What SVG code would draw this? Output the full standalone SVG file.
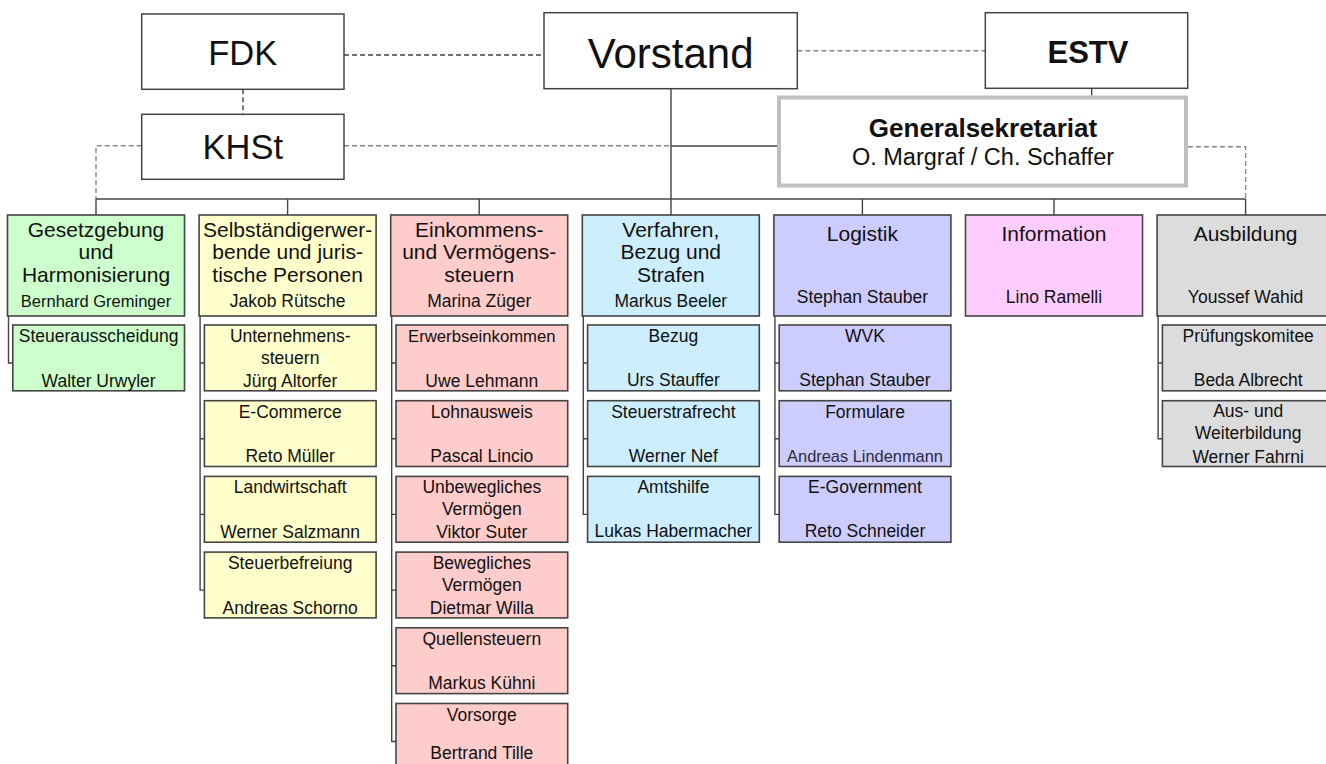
<svg xmlns="http://www.w3.org/2000/svg" width="1326" height="764" viewBox="0 0 1326 764">
<style>
text{font-family:"Liberation Sans",Arial,sans-serif;fill:#111;text-anchor:middle}
.top{fill:#fff;stroke:#444;stroke-width:1.5}
.box{stroke:#444;stroke-width:1.6}
.t{font-size:21px}
.n{font-size:17.5px}
.s{font-size:17.5px}
.ln{fill:none;stroke:#444;stroke-width:1.4}
.dd{fill:none;stroke:#444;stroke-width:1.4;stroke-dasharray:5 3}
.dl{fill:none;stroke:#888;stroke-width:1.4;stroke-dasharray:5 3}
.g{fill:#ccffcc}.y{fill:#ffffcc}.r{fill:#ffcccc}.b{fill:#cceeff}.v{fill:#ccccff}.m{fill:#ffccff}.k{fill:#dcdcdc}
</style>
<g id="connectors">
<path class="dd" d="M344 55H544"/>
<path class="dd" d="M243 89.3V114.3"/>
<path class="dl" d="M141.7 145.7H96V199"/>
<path class="dl" d="M344 145.7H671"/>
<path class="ln" d="M671 146H777"/>
<path class="ln" d="M671 88.7V215"/>
<path class="dl" d="M797.3 50.7H985.3"/>
<path class="ln" d="M1091.7 88.3V95.5"/>
<path class="dl" d="M1188 146.7H1245.6V199"/>
<path class="ln" d="M96 199H1245.6"/>
<path class="ln" d="M96 199V215M287.6 199V215M479.2 199V215M862.4 199V215M1054 199V215M1245.6 199V215"/>
<path class="ln" d="M8.5 316V363H12.8"/>
<path class="ln" d="M200.1 316V590.1H204.4M200.1 363H204.4M200.1 438.7H204.4M200.1 514.4H204.4"/>
<path class="ln" d="M391.7 316V741.5H396M391.7 363H396M391.7 438.7H396M391.7 514.4H396M391.7 590.1H396M391.7 665.8H396"/>
<path class="ln" d="M583.3 316V514.4H587.6M583.3 363H587.6M583.3 438.7H587.6"/>
<path class="ln" d="M774.9 316V514.4H779.2M774.9 363H779.2M774.9 438.7H779.2"/>
<path class="ln" d="M1158.1 316V438.7H1162.4M1158.1 363H1162.4"/>
</g>
<g id="fdk"><rect class="top" x="141.7" y="14" width="202.3" height="75.3"/><text x="242.8" y="65" style="font-size:34.5px">FDK</text></g>
<g id="khst"><rect class="top" x="141.7" y="114.3" width="202.3" height="65"/><text x="242.8" y="159.3" style="font-size:34.5px">KHSt</text></g>
<g id="vorstand"><rect class="top" x="544" y="12.7" width="253.3" height="76"/><text x="670.7" y="67.5" style="font-size:42px">Vorstand</text></g>
<g id="estv"><rect class="top" x="985.3" y="12.7" width="202.4" height="75.6"/><text x="1088" y="62.5" style="font-size:31px;font-weight:bold">ESTV</text></g>
<g id="generalsekretariat"><rect x="779" y="97.5" width="407" height="88" fill="#fff" stroke="#c0c0c0" stroke-width="4"/><text x="983" y="136.7" style="font-size:26px;font-weight:bold">Generalsekretariat</text><text x="983" y="165" style="font-size:23.5px">O. Margraf / Ch. Schaffer</text></g>

<g id="gesetzgebung"><rect class="box g" x="7.5" y="215" width="177" height="101"/><text class="t" x="96" y="237.3">Gesetzgebung</text><text class="t" x="96" y="259.3">und</text><text class="t" x="96" y="281.7">Harmonisierung</text><text class="n" x="96" y="306.7" style="font-size:16.5px">Bernhard Greminger</text></g>
<g id="steuerausscheidung"><rect class="box g" x="12.8" y="325" width="171.7" height="65.8"/><text class="s" x="98.6" y="342">Steuerausscheidung</text><text class="s" x="98.6" y="386.5">Walter Urwyler</text></g>

<g id="selbstaendig"><rect class="box y" x="199.1" y="215" width="177" height="101"/><text class="t" x="287.6" y="237.3">Selbständigerwer-</text><text class="t" x="287.6" y="259.3">bende und juris-</text><text class="t" x="287.6" y="281.7">tische Personen</text><text class="n" x="287.6" y="306.7">Jakob Rütsche</text></g>
<g id="unternehmenssteuern"><rect class="box y" x="204.4" y="325" width="171.7" height="65.8"/><text class="s" x="290.2" y="341.5">Unternehmens-</text><text class="s" x="290.2" y="363.5">steuern</text><text class="s" x="290.2" y="387">Jürg Altorfer</text></g>
<g id="ecommerce"><rect class="box y" x="204.4" y="400.7" width="171.7" height="65.8"/><text class="s" x="290.2" y="417.7">E-Commerce</text><text class="s" x="290.2" y="462.2">Reto Müller</text></g>
<g id="landwirtschaft"><rect class="box y" x="204.4" y="476.4" width="171.7" height="65.8"/><text class="s" x="290.2" y="493.4">Landwirtschaft</text><text class="s" x="290.2" y="537.9">Werner Salzmann</text></g>
<g id="steuerbefreiung"><rect class="box y" x="204.4" y="552.1" width="171.7" height="65.8"/><text class="s" x="290.2" y="569.1">Steuerbefreiung</text><text class="s" x="290.2" y="613.6">Andreas Schorno</text></g>

<g id="einkommen"><rect class="box r" x="390.7" y="215" width="177" height="101"/><text class="t" x="479.2" y="237.3">Einkommens-</text><text class="t" x="479.2" y="259.3">und Vermögens-</text><text class="t" x="479.2" y="281.7">steuern</text><text class="n" x="479.2" y="306.7">Marina Züger</text></g>
<g id="erwerbseinkommen"><rect class="box r" x="396" y="325" width="171.7" height="65.8"/><text class="s" x="481.8" y="342" style="font-size:16.7px">Erwerbseinkommen</text><text class="s" x="481.8" y="386.5">Uwe Lehmann</text></g>
<g id="lohnausweis"><rect class="box r" x="396" y="400.7" width="171.7" height="65.8"/><text class="s" x="481.8" y="417.7">Lohnausweis</text><text class="s" x="481.8" y="462.2">Pascal Lincio</text></g>
<g id="unbewegliches"><rect class="box r" x="396" y="476.4" width="171.7" height="65.8"/><text class="s" x="481.8" y="492.9">Unbewegliches</text><text class="s" x="481.8" y="514.9">Vermögen</text><text class="s" x="481.8" y="538.4">Viktor Suter</text></g>
<g id="bewegliches"><rect class="box r" x="396" y="552.1" width="171.7" height="65.8"/><text class="s" x="481.8" y="568.6">Bewegliches</text><text class="s" x="481.8" y="590.6">Vermögen</text><text class="s" x="481.8" y="614.1">Dietmar Willa</text></g>
<g id="quellensteuern"><rect class="box r" x="396" y="627.8" width="171.7" height="65.8"/><text class="s" x="481.8" y="644.8">Quellensteuern</text><text class="s" x="481.8" y="689.3">Markus Kühni</text></g>
<g id="vorsorge"><rect class="box r" x="396" y="703.5" width="171.7" height="65.8"/><text class="s" x="481.8" y="720.5">Vorsorge</text><text class="s" x="481.8" y="759">Bertrand Tille</text></g>

<g id="verfahren"><rect class="box b" x="582.3" y="215" width="177" height="101"/><text class="t" x="670.8" y="237.3">Verfahren,</text><text class="t" x="670.8" y="259.3">Bezug und</text><text class="t" x="670.8" y="281.7">Strafen</text><text class="n" x="670.8" y="306.7">Markus Beeler</text></g>
<g id="bezug"><rect class="box b" x="587.6" y="325" width="171.7" height="65.8"/><text class="s" x="673.4" y="342">Bezug</text><text class="s" x="673.4" y="386">Urs Stauffer</text></g>
<g id="steuerstrafrecht"><rect class="box b" x="587.6" y="400.7" width="171.7" height="65.8"/><text class="s" x="673.4" y="417.7">Steuerstrafrecht</text><text class="s" x="673.4" y="461.7">Werner Nef</text></g>
<g id="amtshilfe"><rect class="box b" x="587.6" y="476.4" width="171.7" height="65.8"/><text class="s" x="673.4" y="493.4">Amtshilfe</text><text class="s" x="673.4" y="537.4">Lukas Habermacher</text></g>

<g id="logistik"><rect class="box v" x="773.9" y="215" width="177" height="101"/><text class="t" x="862.4" y="240.5">Logistik</text><text class="n" x="862.4" y="302.5">Stephan Stauber</text></g>
<g id="wvk"><rect class="box v" x="779.2" y="325" width="171.7" height="65.8"/><text class="s" x="865" y="342">WVK</text><text class="s" x="865" y="386">Stephan Stauber</text></g>
<g id="formulare"><rect class="box v" x="779.2" y="400.7" width="171.7" height="65.8"/><text class="s" x="865" y="417.7">Formulare</text><text class="s" x="865" y="461.7" style="font-size:16.4px;fill:#2a2a40">Andreas Lindenmann</text></g>
<g id="egovernment"><rect class="box v" x="779.2" y="476.4" width="171.7" height="65.8"/><text class="s" x="865" y="493.4">E-Government</text><text class="s" x="865" y="537.4">Reto Schneider</text></g>

<g id="information"><rect class="box m" x="965.5" y="215" width="177" height="101"/><text class="t" x="1054" y="240.5">Information</text><text class="n" x="1054" y="302.5">Lino Ramelli</text></g>

<g id="ausbildung"><rect class="box k" x="1157.1" y="215" width="177" height="101"/><text class="t" x="1245.6" y="240.5">Ausbildung</text><text class="n" x="1245.6" y="302.5">Youssef Wahid</text></g>
<g id="pruefungskomitee"><rect class="box k" x="1162.4" y="325" width="171.7" height="65.8"/><text class="s" x="1248.2" y="342">Prüfungskomitee</text><text class="s" x="1248.2" y="386">Beda Albrecht</text></g>
<g id="weiterbildung"><rect class="box k" x="1162.4" y="400.7" width="171.7" height="65.8"/><text class="s" x="1248.2" y="417">Aus- und</text><text class="s" x="1248.2" y="439">Weiterbildung</text><text class="s" x="1248.2" y="463.2">Werner Fahrni</text></g>
</svg>
